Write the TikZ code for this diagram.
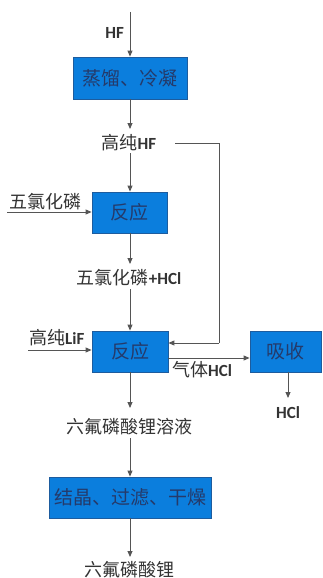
\documentclass[tikz,border=0pt]{standalone}
\usepackage{fontspec}
\setmainfont{Carlito}
\newfontfamily\cjk{Noto Sans CJK SC}
\usetikzlibrary{arrows.meta}
\definecolor{boxfill}{HTML}{0B7EDD}
\definecolor{boxedge}{HTML}{1D5C9E}
\definecolor{boxtext}{HTML}{253A6A}
\definecolor{linecol}{HTML}{555555}
\definecolor{labcol}{HTML}{333333}
\newcommand{\cj}[1]{{\fontsize{18}{18}\cjk\selectfont #1}}
\begin{document}
\begin{tikzpicture}[x=1pt,y=-1pt,
  proc/.style={draw=boxedge,fill=boxfill,line width=0.8pt,inner sep=0pt,text=boxtext,font=\fontsize{19}{19}\cjk\selectfont},
  lab/.style={inner sep=0pt,text=labcol,font=\fontsize{17}{17}\selectfont},
  flow/.style={draw=linecol,line width=0.9pt,-{Triangle[length=6pt,width=5pt]}},
  plain/.style={draw=linecol,line width=0.9pt}]
\useasboundingbox (0,0) rectangle (322,578);
% boxes
\node[proc,minimum width=114pt,minimum height=42pt] (b1) at (130,78) {蒸馏、冷凝};
\node[proc,minimum width=75pt,minimum height=41pt] (b2) at (129.5,212.5) {反应};
\node[proc,minimum width=76pt,minimum height=41pt] (b3) at (130,351.5) {反应};
\node[proc,minimum width=71pt,minimum height=41pt] (b4) at (285.5,351.5) {吸收};
\node[proc,minimum width=162pt,minimum height=41pt] (b5) at (130,497.5) {结晶、过滤、干燥};
% labels
\node[lab,anchor=east] (lhf) at (124,33) {\textbf{HF}};
\node[lab] (lhphf) at (129,143) {\cj{高纯}\textbf{HF}};
\node[lab,anchor=west] (lpcl) at (9,202) {\cj{五氯化磷}};
\node[lab] (lpclhcl) at (129,278) {\cj{五氯化磷}\textbf{+HCl}};
\node[lab,anchor=west] (llif) at (29,338) {\cj{高纯}\textbf{LiF}};
\node[lab,anchor=west] (lgas) at (172,370) {\cj{气体}\textbf{HCl}};
\node[lab] (lhcl) at (288,413) {\textbf{HCl}};
\node[lab] (lsol) at (129,427) {\cj{六氟磷酸锂溶液}};
\node[lab] (lprod) at (129,570) {\cj{六氟磷酸锂}};
% coordinates
\coordinate (top) at (130,12);
\coordinate (pin) at (7,212);
\coordinate (lin) at (28,350);
\coordinate (rA) at (175,143);
\coordinate (rB) at (219,143);
\coordinate (rC) at (219,343);
% connectors
\draw[flow] (top) -- (b1.north);
\draw[flow] (b1.south) -- (130,129);
\draw[flow] (130,153) -- (b2.north -| 130,0);
\draw[flow] (pin) -- (pin -| b2.west);
\draw[flow] (b2.south -| 130,0) -- (130,264);
\draw[flow] (130,289) -- (b3.north);
\draw[flow] (lin) -- (lin -| b3.west);
\draw[plain] (rA) -- (rB) -- (rC);
\draw[flow] (rC) -- (rC -| b3.east);
\draw[flow] (b3.east |- 0,358) -- (b4.west |- 0,358);
\draw[flow] (b4.south -| 288,0) -- (288,398);
\draw[flow] (b3.south) -- (130,408);
\draw[flow] (130,438) -- (b5.north);
\draw[flow] (b5.south) -- (130,557);
\end{tikzpicture}
\end{document}
